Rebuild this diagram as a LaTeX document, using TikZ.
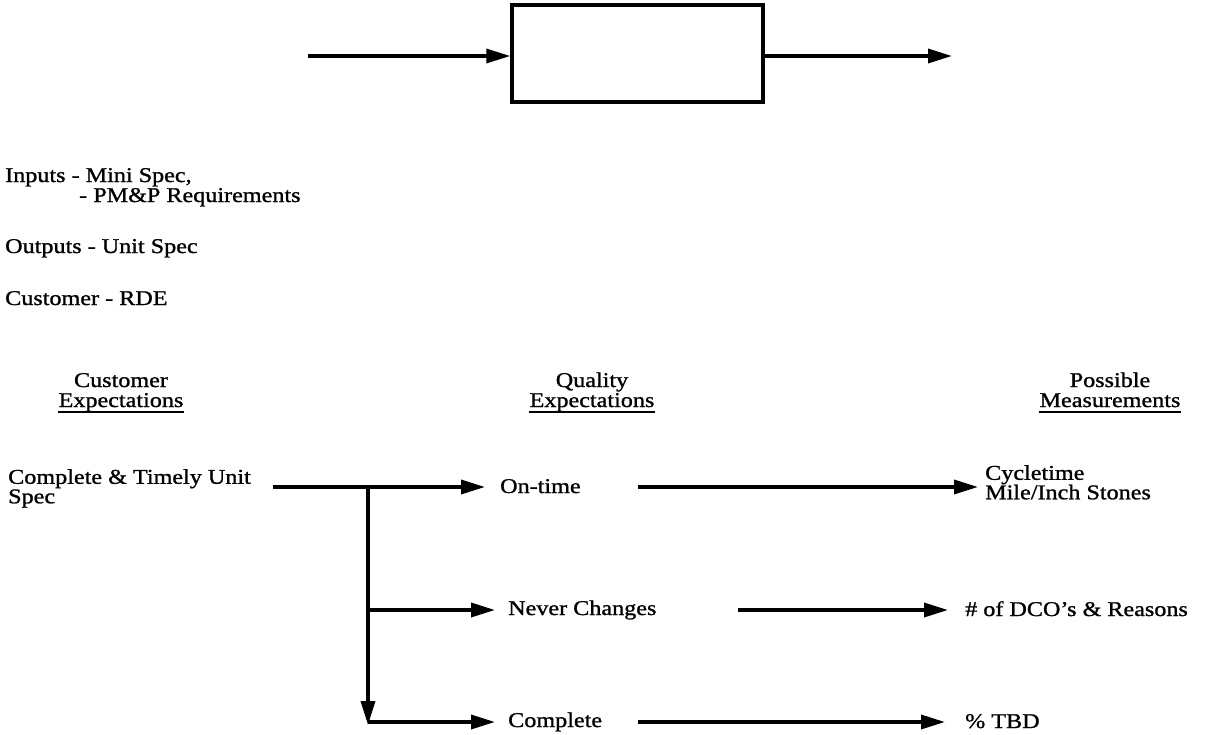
\documentclass[tikz,border=0pt]{standalone}
\usepackage{fontspec}
\setmainfont[FakeStretch=1.15,FakeBold=1.1]{Liberation Serif}
\usetikzlibrary{arrows.meta}
\begin{document}
\begin{tikzpicture}[x=1pt,y=-1pt,
  txt/.style={inner sep=0pt, font=\fontsize{21}{19.5}\selectfont, align=left},
  conn/.style={line width=3.4pt, -{Triangle[length=24pt,width=14pt]}},
  ulin/.style={line width=2pt}]
\useasboundingbox (0,0) rectangle (1224,734);

% process box with its input and output
\node[draw, line width=3.4pt, minimum width=251pt, minimum height=97pt, inner sep=0pt] (box) at (637.5,53.5) {};
\coordinate (in) at (308,56);
\coordinate (out) at (952,56);
\draw[conn] (in) -- (in -| box.west);
\draw[conn] (out -| box.east) -- (out);

% process description
\node[txt, anchor=base west] (inputs) at (5,182) {Inputs - Mini Spec,};
\node[txt, anchor=base west] (pmp) at (79,202) {- PM\&P Requirements};
\node[txt, anchor=base west] (outputs) at (5,253) {Outputs - Unit Spec};
\node[txt, anchor=base west] (customer) at (5,305) {Customer - RDE};

% column headings
\node[txt, anchor=base] (h1a) at (121,387) {Customer};
\node[txt, anchor=base] (h1b) at (121,407) {Expectations};
\node[txt, anchor=base] (h2a) at (592,387) {Quality};
\node[txt, anchor=base] (h2b) at (592,407) {Expectations};
\node[txt, anchor=base] (h3a) at (1110,387) {Possible};
\node[txt, anchor=base] (h3b) at (1110,407) {Measurements};
\foreach \h in {h1b,h2b,h3b}
  \draw[ulin] ([yshift=-5pt]\h.base west) -- ([yshift=-5pt]\h.base east);

% entries
\node[txt, anchor=north west] (cte) at (8,469) {Complete \& Timely Unit\\Spec};
\node[txt, anchor=base west] (ontime) at (500,493) {On-time};
\node[txt, anchor=base west] (never) at (508,615) {Never Changes};
\node[txt, anchor=base west] (complete) at (508,727) {Complete};
\node[txt, anchor=north west] (cyc) at (985,465) {Cycletime\\Mile/Inch Stones};
\node[txt, anchor=base west] (dco) at (965,616) {\# of DCO's \& Reasons};
\node[txt, anchor=base west] (tbd) at (965,728) {\% TBD};

% branching connectors
\coordinate (s) at (273,487);
\coordinate (j1) at (368,487);
\coordinate (j2) at (368,610);
\coordinate (j3) at (368,722);
\draw[conn, shorten >=15pt] (s) -- (s -| ontime.west);
\draw[conn] (j1) -- ([yshift=-3pt]j3);
\draw[conn, shorten >=13pt] (j2) -- (j2 -| never.west);
\draw[conn, shorten >=13pt] (j3) -- (j3 -| complete.west);

% measurement connectors
\coordinate (m1) at (638,487);
\coordinate (m2) at (738,610);
\coordinate (m3) at (638,722);
\draw[conn, shorten >=7pt] (m1) -- (m1 -| cyc.west);
\draw[conn, shorten >=17pt] (m2) -- (m2 -| dco.west);
\draw[conn, shorten >=20pt] (m3) -- (m3 -| tbd.west);
\end{tikzpicture}
\end{document}
